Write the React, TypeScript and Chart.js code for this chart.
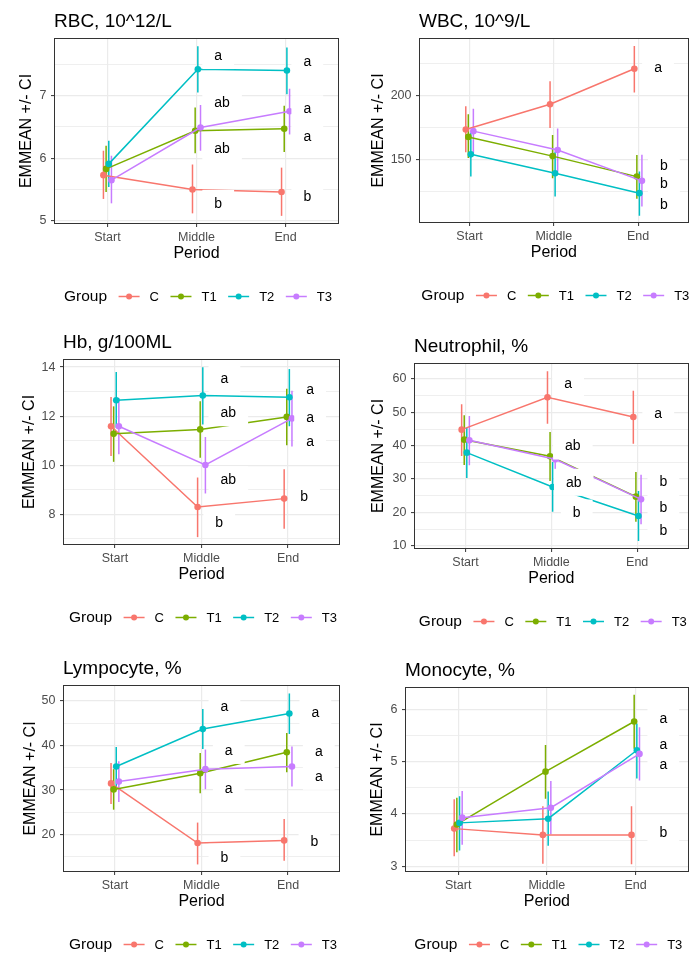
import React, { useEffect, useRef } from 'react';
import { Chart, registerables } from 'chart.js';

Chart.register(...registerables);

const FONT = '"Liberation Sans", Arial, Helvetica, sans-serif';

// ---- shared categories ----
const periods = ['Start', 'Middle', 'End'];
const groups = ['C', 'T1', 'T2', 'T3'];
const groupColors = ['#F8766D', '#7CAE00', '#00BFC4', '#C77CFF'];
const dodge = [-0.045, -0.015, 0.015, 0.045];

// ---- RBC, 10^12/L (rows: C, T1, T2, T3; cols: Start, Middle, End) ----
const rbcMean = [[5.73, 5.5, 5.46], [5.83, 6.44, 6.47], [5.91, 7.42, 7.4], [5.65, 6.49, 6.75]];
const rbcLow = [[5.35, 5.12, 5.08], [5.46, 6.08, 6.1], [5.54, 7.05, 7.02], [5.28, 6.12, 6.38]];
const rbcHigh = [[6.12, 5.9, 5.85], [6.2, 6.81, 6.84], [6.28, 7.79, 7.77], [6.04, 6.85, 7.11]];
const rbcLetters: [number, number, string][] = [
  [2.2, 7.64, 'a'], [2.2, 6.89, 'ab'], [2.2, 6.16, 'ab'], [2.2, 5.28, 'b'],
  [3.2, 7.54, 'a'], [3.2, 6.79, 'a'], [3.2, 6.34, 'a'], [3.2, 5.39, 'b'],
];
const rbcTicks = [5, 6, 7];

// ---- WBC, 10^9/L ----
const wbcMean = [[173.8, 193.5, 221.2], [168, 153, 137], [154.4, 139.6, 124.1], [172.5, 157.8, 133.7]];
const wbcLow = [[156, 175, 202.6], [151.5, 135.8, 119.7], [137, 121.5, 106.5], [155.2, 141, 113.7]];
const wbcHigh = [[192, 211.4, 238.9], [185.7, 169.4, 153.9], [171.5, 156.5, 141], [190, 174.6, 154]];
const wbcLetters: [number, number, string][] = [
  [3.19, 221.8, 'a'], [3.26, 145.3, 'b'], [3.26, 131.6, 'b'], [3.26, 115, 'b'],
];
const wbcTicks = [150, 200];

// ---- Hb, g/100ML ----
const hbMean = [[11.59, 8.3, 8.64], [11.28, 11.46, 11.97], [12.65, 12.84, 12.77], [11.59, 10.01, 11.91]];
const hbLow = [[10.38, 7.07, 7.41], [10.14, 10.31, 10.81], [11.53, 11.66, 11.59], [10.45, 8.85, 10.76]];
const hbHigh = [[12.78, 9.5, 9.84], [12.4, 12.61, 13.12], [13.8, 13.99, 13.92], [12.74, 11.15, 13.04]];
const hbLetters: [number, number, string][] = [
  [2.22, 13.53, 'a'], [2.22, 12.14, 'ab'], [2.22, 9.41, 'ab'], [2.16, 7.65, 'b'],
  [3.21, 13.08, 'a'], [3.21, 11.92, 'a'], [3.21, 10.96, 'a'], [3.14, 8.72, 'b'],
];
const hbTicks = [8, 10, 12, 14];

// ---- Neutrophil, % ----
const neuMean = [[44.8, 54.5, 48.6], [41.8, 36.8, 24.7], [37.9, 27.6, 18.9], [41.6, 35.9, 23.9]];
const neuLow = [[36.9, 46.6, 40.6], [34.2, 29.4, 17.2], [30.3, 20.2, 11.4], [34.1, 28.6, 16.4]];
const neuHigh = [[52.4, 62.3, 56.5], [49.1, 44.1, 32.1], [45.3, 35.1, 26.4], [48.9, 43.3, 31.3]];
const neuLetters: [number, number, string][] = [
  [2.15, 58.5, 'a'], [2.16, 39.9, 'ab'], [2.17, 29.0, 'ab'], [2.25, 19.8, 'b'],
  [3.2, 49.6, 'a'], [3.26, 29.3, 'b'], [3.26, 21.5, 'b'], [3.26, 14.5, 'b'],
];
const neuTicks = [10, 20, 30, 40, 50, 60];

// ---- Lympocyte, % ----
const lymMean = [[31.5, 18.1, 18.7], [30.15, 33.8, 38.5], [35.3, 43.7, 47.2], [31.9, 34.7, 35.3]];
const lymLow = [[26.9, 13.3, 14.1], [25.6, 29.3, 34.0], [30.7, 39.2, 42.6], [27.3, 30.2, 30.8]];
const lymHigh = [[36.1, 22.7, 23.5], [34.7, 38.3, 42.8], [39.7, 48.2, 51.7], [36.5, 39.1, 39.8]];
const lymLetters: [number, number, string][] = [
  [2.22, 48.7, 'a'], [2.27, 38.9, 'a'], [2.27, 30.4, 'a'], [2.22, 14.9, 'b'],
  [3.27, 47.3, 'a'], [3.31, 38.7, 'a'], [3.31, 33.1, 'a'], [3.26, 18.4, 'b'],
];
const lymTicks = [20, 30, 40, 50];

// ---- Monocyte, % ----
const monMean = [[3.72, 3.6, 3.6], [3.8, 4.81, 5.77], [3.83, 3.91, 5.22], [3.93, 4.12, 5.15]];
const monLow = [[3.19, 3.05, 3.04], [3.27, 4.29, 5.25], [3.3, 3.39, 4.68], [3.41, 3.61, 4.64]];
const monHigh = [[4.28, 4.15, 4.15], [4.31, 5.32, 6.28], [4.34, 4.43, 5.73], [4.44, 4.63, 5.66]];
const monLetters: [number, number, string][] = [
  [3.27, 5.82, 'a'], [3.27, 5.33, 'a'], [3.27, 4.95, 'a'], [3.27, 3.64, 'b'],
];
const monTicks = [3, 4, 5, 6];

type Panel = {
  title: string;
  mean: number[][];
  low: number[][];
  high: number[][];
  letters: [number, number, string][];
  ticks: number[];
  yMin: number;
  yMax: number;
  left: number;
  top: number;
  w: number;
  h: number;
  area: [number, number, number, number]; // l, t, r, b
  yTitleX: number;
};

const panels: Panel[] = [
  { title: 'RBC, 10^12/L', mean: rbcMean, low: rbcLow, high: rbcHigh, letters: rbcLetters, ticks: rbcTicks, yMin: 4.95, yMax: 7.92, left: 0, top: 0, w: 346, h: 310, area: [54, 38, 339, 224], yTitleX: 26 },
  { title: 'WBC, 10^9/L', mean: wbcMean, low: wbcLow, high: wbcHigh, letters: wbcLetters, ticks: wbcTicks, yMin: 100.8, yMax: 245.2, left: 346, top: 0, w: 346, h: 310, area: [73, 38, 343, 223], yTitleX: 32 },
  { title: 'Hb, g/100ML', mean: hbMean, low: hbLow, high: hbHigh, letters: hbLetters, ticks: hbTicks, yMin: 6.75, yMax: 14.33, left: 0, top: 310, w: 346, h: 320, area: [63, 49, 340, 235], yTitleX: 29 },
  { title: 'Neutrophil, %', mean: neuMean, low: neuLow, high: neuHigh, letters: neuLetters, ticks: neuTicks, yMin: 9.0, yMax: 64.8, left: 346, top: 310, w: 346, h: 320, area: [68, 53, 343, 239], yTitleX: 32 },
  { title: 'Lympocyte, %', mean: lymMean, low: lymLow, high: lymHigh, letters: lymLetters, ticks: lymTicks, yMin: 11.6, yMax: 53.6, left: 0, top: 630, w: 346, h: 323, area: [63, 55, 340, 242], yTitleX: 29.5 },
  { title: 'Monocyte, %', mean: monMean, low: monLow, high: monHigh, letters: monLetters, ticks: monTicks, yMin: 2.89, yMax: 6.43, left: 346, top: 630, w: 346, h: 323, area: [59, 57, 343, 242], yTitleX: 31 },
];

const X_AXIS_H = 42;

function PanelChart({ p }: { p: Panel }) {
  const ref = useRef<HTMLCanvasElement>(null);

  useEffect(() => {
    const canvas = ref.current;
    if (!canvas) return;
    const [l, t, r, b] = p.area;
    const majors = p.ticks.filter((v) => v >= p.yMin && v <= p.yMax);
    const step = p.ticks[1] - p.ticks[0];
    const minors: number[] = [];
    for (let k = 0; k <= p.ticks.length; k++) {
      const v = p.ticks[0] - step / 2 + k * step;
      if (v >= p.yMin && v <= p.yMax) minors.push(v);
    }
    const allTicks = [...majors, ...minors].sort((a, c) => a - c);
    const isMajor = (v: number) => majors.some((m) => Math.abs(m - v) < 1e-9);

    const datasets = groups.map((g, gi) => ({
      label: g,
      data: p.mean[gi].map((v, pi) => ({ x: pi + 1 + dodge[gi], y: v })),
      borderColor: groupColors[gi],
      backgroundColor: groupColors[gi],
      borderWidth: 1.5,
      pointRadius: 3.3,
      pointHoverRadius: 3.3,
      pointBorderWidth: 0,
      tension: 0,
      fill: false,
      order: 3 - gi,
    }));

    const errorBars = {
      id: 'errorBars',
      beforeDatasetsDraw(chart: any) {
        const { ctx, chartArea, scales } = chart;
        ctx.save();
        ctx.beginPath();
        ctx.rect(chartArea.left, chartArea.top, chartArea.right - chartArea.left, chartArea.bottom - chartArea.top);
        ctx.clip();
        ctx.lineWidth = 1.5;
        ctx.lineCap = 'butt';
        groups.forEach((_, gi) => {
          ctx.strokeStyle = groupColors[gi];
          periods.forEach((__, pi) => {
            const x = scales.x.getPixelForValue(pi + 1 + dodge[gi]);
            const y1 = scales.y.getPixelForValue(p.low[gi][pi]);
            const y2 = scales.y.getPixelForValue(p.high[gi][pi]);
            ctx.beginPath();
            ctx.moveTo(x, y1);
            ctx.lineTo(x, y2);
            ctx.stroke();
          });
        });
        ctx.restore();
      },
    };

    const letterLabels = {
      id: 'letterLabels',
      afterDatasetsDraw(chart: any) {
        const { ctx, chartArea, scales } = chart;
        ctx.save();
        ctx.beginPath();
        ctx.rect(chartArea.left, chartArea.top, chartArea.right - chartArea.left, chartArea.bottom - chartArea.top);
        ctx.clip();
        ctx.font = `14px ${FONT}`;
        ctx.textBaseline = 'middle';
        ctx.textAlign = 'left';
        p.letters.forEach(([lx, ly, txt]) => {
          const x = scales.x.getPixelForValue(lx);
          const y = scales.y.getPixelForValue(ly);
          const w = ctx.measureText(txt).width;
          ctx.fillStyle = '#ffffff';
          ctx.fillRect(x - 12, y - 13.5, w + 24, 27);
          ctx.fillStyle = '#000000';
          ctx.fillText(txt, x, y + 0.5);
        });
        ctx.restore();
      },
    };

    const panelBorder = {
      id: 'panelBorder',
      afterDraw(chart: any) {
        const { ctx, chartArea } = chart;
        ctx.save();
        ctx.strokeStyle = '#333333';
        ctx.lineWidth = 1;
        const x0 = Math.round(chartArea.left) + 0.5;
        const y0 = Math.round(chartArea.top) + 0.5;
        const x1 = Math.round(chartArea.right) - 0.5;
        const y1 = Math.round(chartArea.bottom) - 0.5;
        ctx.strokeRect(x0, y0, x1 - x0, y1 - y0);
        ctx.restore();
      },
    };

    const groupLegend = {
      id: 'groupLegend',
      afterDraw(chart: any) {
        const { ctx, chartArea } = chart;
        const cy = chartArea.bottom + 72.5;
        const KEY = 21;
        const GAP_ITEM = 11.5;
        const GAP_TEXT = 10;
        ctx.save();
        ctx.textBaseline = 'middle';
        ctx.textAlign = 'left';
        ctx.font = `15.5px ${FONT}`;
        const titleW = ctx.measureText('Group').width;
        ctx.font = `13px ${FONT}`;
        const labelW = groups.map((g) => ctx.measureText(g).width);
        const total = titleW + labelW.reduce((s, w) => s + GAP_ITEM + KEY + GAP_TEXT + w, 0);
        let x = (chartArea.left + chartArea.right) / 2 - total / 2 + 1.5;
        ctx.fillStyle = '#000000';
        ctx.font = `15.5px ${FONT}`;
        ctx.fillText('Group', x, cy + 0.5);
        x += titleW;
        ctx.font = `13px ${FONT}`;
        groups.forEach((g, gi) => {
          x += GAP_ITEM;
          ctx.strokeStyle = groupColors[gi];
          ctx.lineWidth = 1.5;
          ctx.beginPath();
          ctx.moveTo(x, cy);
          ctx.lineTo(x + KEY, cy);
          ctx.stroke();
          ctx.fillStyle = groupColors[gi];
          ctx.beginPath();
          ctx.arc(x + KEY / 2, cy, 3, 0, Math.PI * 2);
          ctx.fill();
          x += KEY + GAP_TEXT;
          ctx.fillStyle = '#000000';
          ctx.fillText(g, x, cy + 0.5);
          x += labelW[gi];
        });
        ctx.restore();
      },
    };

    const chart = new Chart(canvas, {
      type: 'line',
      data: { datasets: datasets as any },
      options: {
        animation: false,
        responsive: false,
        devicePixelRatio: 1,
        events: [],
        layout: { padding: { left: 0, top: 0, right: p.w - r, bottom: p.h - b - X_AXIS_H } },
        plugins: {
          legend: { display: false },
          tooltip: { enabled: false },
          title: {
            display: true,
            text: p.title,
            align: 'start',
            fullSize: false,
            color: '#000000',
            font: { family: FONT, size: 19, weight: 'normal' as any, lineHeight: 1.2 },
            padding: { top: t - 27.9, bottom: 5.1 },
          },
        },
        scales: {
          x: {
            type: 'linear',
            min: 0.4,
            max: 3.6,
            afterBuildTicks: (scale: any) => {
              scale.ticks = periods.map((_, i) => ({ value: i + 1 }));
            },
            afterFit: (scale: any) => {
              scale.height = X_AXIS_H;
            },
            ticks: {
              autoSkip: false,
              maxRotation: 0,
              minRotation: 0,
              padding: 3.5,
              color: '#4D4D4D',
              font: { family: FONT, size: 12.5 },
              callback: (v: any) => periods[Math.round(Number(v)) - 1] ?? '',
            },
            grid: { color: '#EBEBEB', lineWidth: 1.2, tickLength: 3, tickColor: '#333333', tickWidth: 1 },
            border: { display: false },
            title: {
              display: true,
              text: 'Period',
              color: '#000000',
              font: { family: FONT, size: 16, lineHeight: 1.2 },
              padding: { top: 0, bottom: X_AXIS_H - 30 - 9.6 },
            },
          },
          y: {
            type: 'linear',
            min: p.yMin,
            max: p.yMax,
            afterBuildTicks: (scale: any) => {
              scale.ticks = allTicks.map((v) => ({ value: v }));
            },
            afterFit: (scale: any) => {
              scale.width = l;
            },
            ticks: {
              autoSkip: false,
              padding: 4.5,
              color: '#4D4D4D',
              font: { family: FONT, size: 12.5 },
              callback: (v: any) => (isMajor(Number(v)) ? String(v) : ''),
            },
            grid: {
              color: '#EBEBEB',
              lineWidth: (c: any) => (c.tick && isMajor(c.tick.value) ? 1.2 : 0.8),
              tickLength: 3,
              tickColor: (c: any) => (c.tick && isMajor(c.tick.value) ? '#333333' : 'rgba(0,0,0,0)'),
              tickWidth: 1,
            },
            border: { display: false },
            title: {
              display: true,
              text: 'EMMEAN +/- CI',
              color: '#000000',
              font: { family: FONT, size: 16, lineHeight: 1.2 },
              padding: { top: p.yTitleX - 8.6, bottom: 0 },
            },
          },
        },
      } as any,
      plugins: [errorBars, letterLabels, panelBorder, groupLegend],
    });

    return () => chart.destroy();
  }, [p]);

  return (
    <canvas
      ref={ref}
      width={p.w}
      height={p.h}
      style={{ position: 'absolute', left: p.left, top: p.top, width: p.w, height: p.h }}
    />
  );
}

export default function App() {
  return (
    <div style={{ position: 'absolute', left: 0, top: 0, width: 692, height: 953, background: '#ffffff' }}>
      {panels.map((p) => (
        <PanelChart key={p.title} p={p} />
      ))}
    </div>
  );
}
